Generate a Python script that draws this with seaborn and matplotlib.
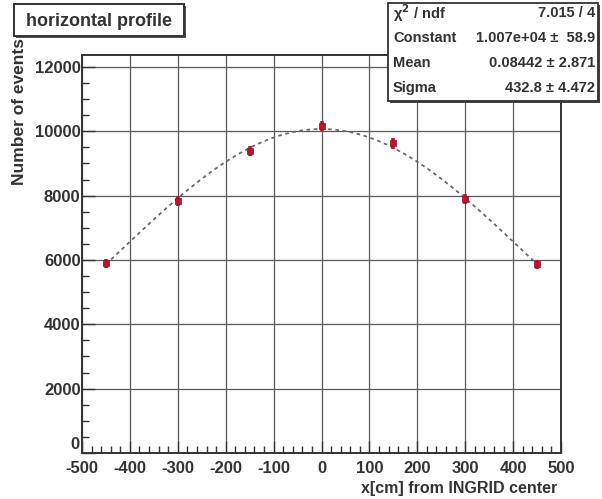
import numpy as np
import pandas as pd
import matplotlib
matplotlib.use("Agg")
import matplotlib.pyplot as plt
from matplotlib.patches import Rectangle
from matplotlib.ticker import MultipleLocator, FuncFormatter
import seaborn as sns

# Beam profile measured along the horizontal direction
positions = [-450, -300, -150, 0, 150, 300, 450]
events = [5900, 7840, 9380, 10170, 9620, 7900, 5870]
event_errors = [140, 150, 160, 160, 160, 150, 140]

# Gaussian fit result
fit_constant = 1.007e4
fit_mean = 0.08442
fit_sigma = 432.8

stats_labels = ["\u03c7$^{2}$ / ndf", "Constant", "Mean", "Sigma"]
stats_values = ["7.015 / 4", "1.007e+04 \u00b1  58.9", "0.08442 \u00b1 2.871", "432.8 \u00b1 4.472"]

title_text = "horizontal profile"
x_title = "x[cm] from INGRID center"
y_title = "Number of events"

sns.set_theme(style="white")
plt.rcParams["font.family"] = ["Liberation Sans", "DejaVu Sans"]
plt.rcParams["font.weight"] = "bold"
plt.rcParams["axes.unicode_minus"] = False

fig = plt.figure(figsize=(6.02, 4.99), dpi=100)
ax = fig.add_axes([82 / 602, 1 - 453 / 499, (561 - 82) / 602, (453 - 55) / 499])

df = pd.DataFrame({"x": positions, "n": events, "err": event_errors})

# fitted Gaussian over the measured range
xs = np.linspace(min(positions), max(positions), 300)
fit_df = pd.DataFrame({"x": xs,
                       "n": fit_constant * np.exp(-0.5 * ((xs - fit_mean) / fit_sigma) ** 2)})
sns.lineplot(data=fit_df, x="x", y="n", ax=ax, color="#6a6a6a", lw=1.3,
             dashes=False, linestyle=(0, (2, 2)), zorder=3)

ax.errorbar(df["x"], df["n"], yerr=df["err"], fmt="none", ecolor="#b8163a",
            elinewidth=2.6, capsize=0, zorder=4)
sns.scatterplot(data=df, x="x", y="n", ax=ax, color="#c8102e", marker="s", s=14,
                edgecolor="#8a0f2a", linewidth=0.5, zorder=5)

ax.set_xlim(-500, 500)
ax.set_ylim(0, 12370)
ax.xaxis.set_major_locator(MultipleLocator(100))
ax.xaxis.set_minor_locator(MultipleLocator(20))
ax.yaxis.set_major_locator(MultipleLocator(2000))
ax.yaxis.set_minor_locator(MultipleLocator(500))
# the zero of the count axis is written separately, sitting on the corner
ax.yaxis.set_major_formatter(FuncFormatter(lambda v, p: "" if v == 0 else f"{v:.0f}"))
ax.grid(True, which="major", color="#5a5a5a", lw=0.9)
ax.set_axisbelow(True)

ax.tick_params(axis="both", which="major", direction="in", length=9, width=1.0,
               color="#333333", labelsize=12, top=False, right=False,
               bottom=True, left=True)
ax.tick_params(axis="x", which="major", pad=6)
ax.tick_params(axis="y", which="major", pad=1)
ax.tick_params(axis="both", which="minor", direction="in", length=5, width=1.0,
               color="#333333", top=False, right=False, bottom=True, left=True)
for lab in ax.get_xticklabels() + ax.get_yticklabels():
    lab.set_fontweight("bold")
    lab.set_color("#333333")

ax.annotate("0", xy=(-500, 0), xycoords="data", xytext=(-1.5, 0.5),
            textcoords="offset points", ha="right", va="bottom", fontsize=12,
            fontweight="bold", color="#333333", annotation_clip=False)

for sp in ax.spines.values():
    sp.set_color("#333333")
    sp.set_linewidth(1.4)

ax.set_xlabel("")
ax.set_ylabel("")
fig.text(557 / 602, 1 - 488 / 499, x_title, ha="right", va="center",
         fontsize=11.5, fontweight="bold", color="#333333")
fig.text(20 / 602, 1 - 38 / 499, y_title, ha="center", va="top", rotation=90,
         fontsize=12.5, fontweight="bold", color="#333333")

# title box
fig.patches.append(Rectangle((16 / 602, 1 - 38 / 499), 170 / 602, 32 / 499,
                             transform=fig.transFigure, facecolor="#555555",
                             edgecolor="none", zorder=1))
fig.patches.append(Rectangle((14 / 602, 1 - 36 / 499), 170 / 602, 32 / 499,
                             transform=fig.transFigure, facecolor="white",
                             edgecolor="#333333", lw=1.4, zorder=2))
fig.text(99 / 602, 1 - 21 / 499, title_text, ha="center", va="center",
         fontsize=13, fontweight="bold", color="#333333", zorder=3)

# statistics box
bx0, by0, bx1, by1 = 388, 3, 598, 101
fig.patches.append(Rectangle(((bx0 + 2) / 602, 1 - (by1 + 2) / 499),
                             (bx1 - bx0) / 602, (by1 - by0) / 499,
                             transform=fig.transFigure, facecolor="#444444",
                             edgecolor="none", zorder=6))
fig.patches.append(Rectangle((bx0 / 602, 1 - by1 / 499), (bx1 - bx0) / 602,
                             (by1 - by0) / 499, transform=fig.transFigure,
                             facecolor="white", edgecolor="#333333", lw=1.3, zorder=7))
row_y = [13, 38, 63, 88]
for lab, val, yy in zip(stats_labels, stats_values, row_y):
    fig.text(393 / 602, 1 - yy / 499, lab, ha="left", va="center", fontsize=10.5,
             fontweight="bold", color="#333333", zorder=8)
    fig.text(595 / 602, 1 - yy / 499, val, ha="right", va="center", fontsize=10.5,
             fontweight="bold", color="#333333", zorder=8)

fig.savefig("out.png", dpi=100)
